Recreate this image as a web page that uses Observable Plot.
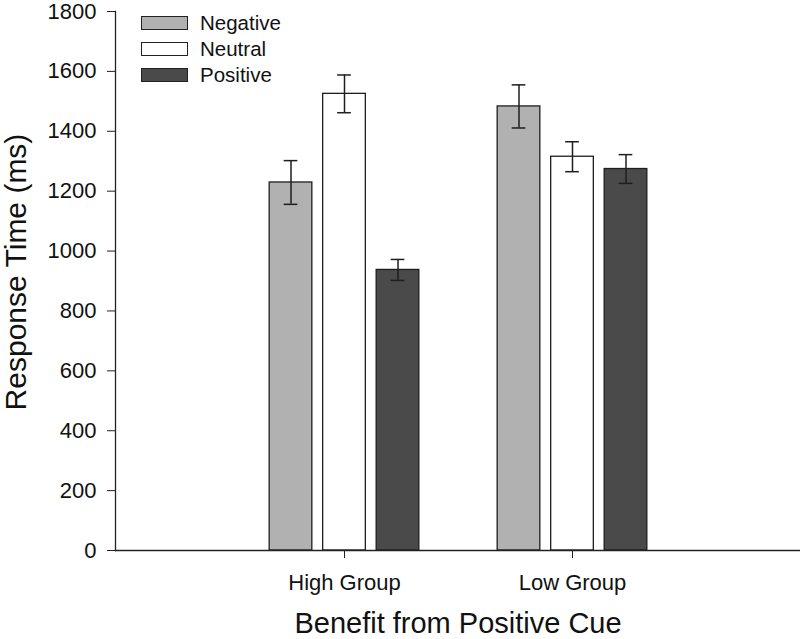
<!DOCTYPE html>
<html><head><meta charset="utf-8">
<script src="https://cdn.jsdelivr.net/npm/d3@7"></script>
<script src="https://cdn.jsdelivr.net/npm/@observablehq/plot@0.6"></script>
<style>
body{margin:0;background:#fff;font-family:"Liberation Sans",Arial,sans-serif;}
#wrap{position:relative;width:800px;height:639px;}
.leg{position:absolute;left:141px;top:10px;font-size:20.5px;color:#111;}
.row{display:flex;align-items:center;height:26px;}
.sw{width:45px;height:12px;border:1.3px solid #222;margin-right:12px;}
</style></head><body><div id="wrap"></div>
<script>
const groups = ["High Group", "Low Group"];
const conditions = ["Negative", "Neutral", "Positive"];
const negativeMean = [1229, 1483];
const neutralMean = [1525, 1315];
const positiveMean = [937, 1274];
const negativeErr = [73, 72];
const neutralErr = [63, 50];
const positiveErr = [35, 48];
const yTicks = [0, 200, 400, 600, 800, 1000, 1200, 1400, 1600, 1800];

const colors = {Negative: "#b1b1b1", Neutral: "#ffffff", Positive: "#4a4a4a"};
const means = {Negative: negativeMean, Neutral: neutralMean, Positive: positiveMean};
const errs = {Negative: negativeErr, Neutral: neutralErr, Positive: positiveErr};
const rows = [];
conditions.forEach(c => groups.forEach((g, i) => rows.push({group: g, cond: c, mean: means[c][i], err: errs[c][i]})));

const W = 800, H = 639, mL = 115, mR = 0, mT = 11, mB = 89;
const step = (W - mL - mR) / 3;          // band width with paddingOuter 0.5
const pitch = 53.5, barW = 43, capW = 14;
const offs = {Negative: -pitch, Neutral: 0, Positive: pitch};

const marks = [];
conditions.forEach(c => {
  const d = rows.filter(r => r.cond === c);
  marks.push(Plot.barY(d, {x: "group", y: "mean", fill: colors[c], stroke: "#1e1e1e", strokeWidth: 1.3,
    dx: offs[c], insetLeft: (step - barW) / 2, insetRight: (step - barW) / 2}));
  marks.push(Plot.ruleX(d, {x: "group", y1: r => r.mean - r.err, y2: r => r.mean + r.err, stroke: "#1e1e1e", strokeWidth: 1.5, dx: offs[c]}));
  marks.push(Plot.tickY(d, {x: "group", y: r => r.mean + r.err, stroke: "#1e1e1e", strokeWidth: 1.5, dx: offs[c], insetLeft: (step - capW) / 2, insetRight: (step - capW) / 2}));
  marks.push(Plot.tickY(d, {x: "group", y: r => r.mean - r.err, stroke: "#1e1e1e", strokeWidth: 1.5, dx: offs[c], insetLeft: (step - capW) / 2, insetRight: (step - capW) / 2}));
});
marks.push(Plot.frame({anchor: "left", stroke: "#222", strokeWidth: 1.3}));
marks.push(Plot.frame({anchor: "bottom", stroke: "#222", strokeWidth: 1.3}));
marks.push(Plot.axisY({ticks: yTicks, tickFormat: d => String(d), tickSize: 8, tickPadding: 11, fontSize: 22, label: null, stroke: "#222", color: "#111"}));
marks.push(Plot.axisX({tickSize: 8, tickPadding: 16, fontSize: 22, label: null, stroke: "#222", color: "#111"}));
marks.push(Plot.text(["Benefit from Positive Cue"], {frameAnchor: "bottom", textAnchor: "middle", lineAnchor: "middle", dy: 73, fontSize: 29, fill: "#111"}));
marks.push(Plot.text(["Response Time (ms)"], {frameAnchor: "left", textAnchor: "middle", lineAnchor: "middle", rotate: -90, dx: -99, dy: -9, fontSize: 30, fill: "#111"}));

const chart = Plot.plot({
  width: W, height: H, marginLeft: mL, marginRight: mR, marginTop: mT, marginBottom: mB,
  style: {fontFamily: "Liberation Sans, Arial, sans-serif", background: "#fff"},
  x: {type: "band", domain: groups, paddingInner: 0, paddingOuter: 0.5, axis: null},
  y: {domain: [0, 1800], axis: null},
  marks
});
const wrap = document.getElementById("wrap");
wrap.appendChild(chart);
const leg = document.createElement("div");
leg.className = "leg";
conditions.forEach(c => {
  const r = document.createElement("div"); r.className = "row";
  const s = document.createElement("div"); s.className = "sw"; s.style.background = colors[c];
  const t = document.createElement("span"); t.textContent = c;
  r.appendChild(s); r.appendChild(t); leg.appendChild(r);
});
wrap.appendChild(leg);
</script></body></html>
